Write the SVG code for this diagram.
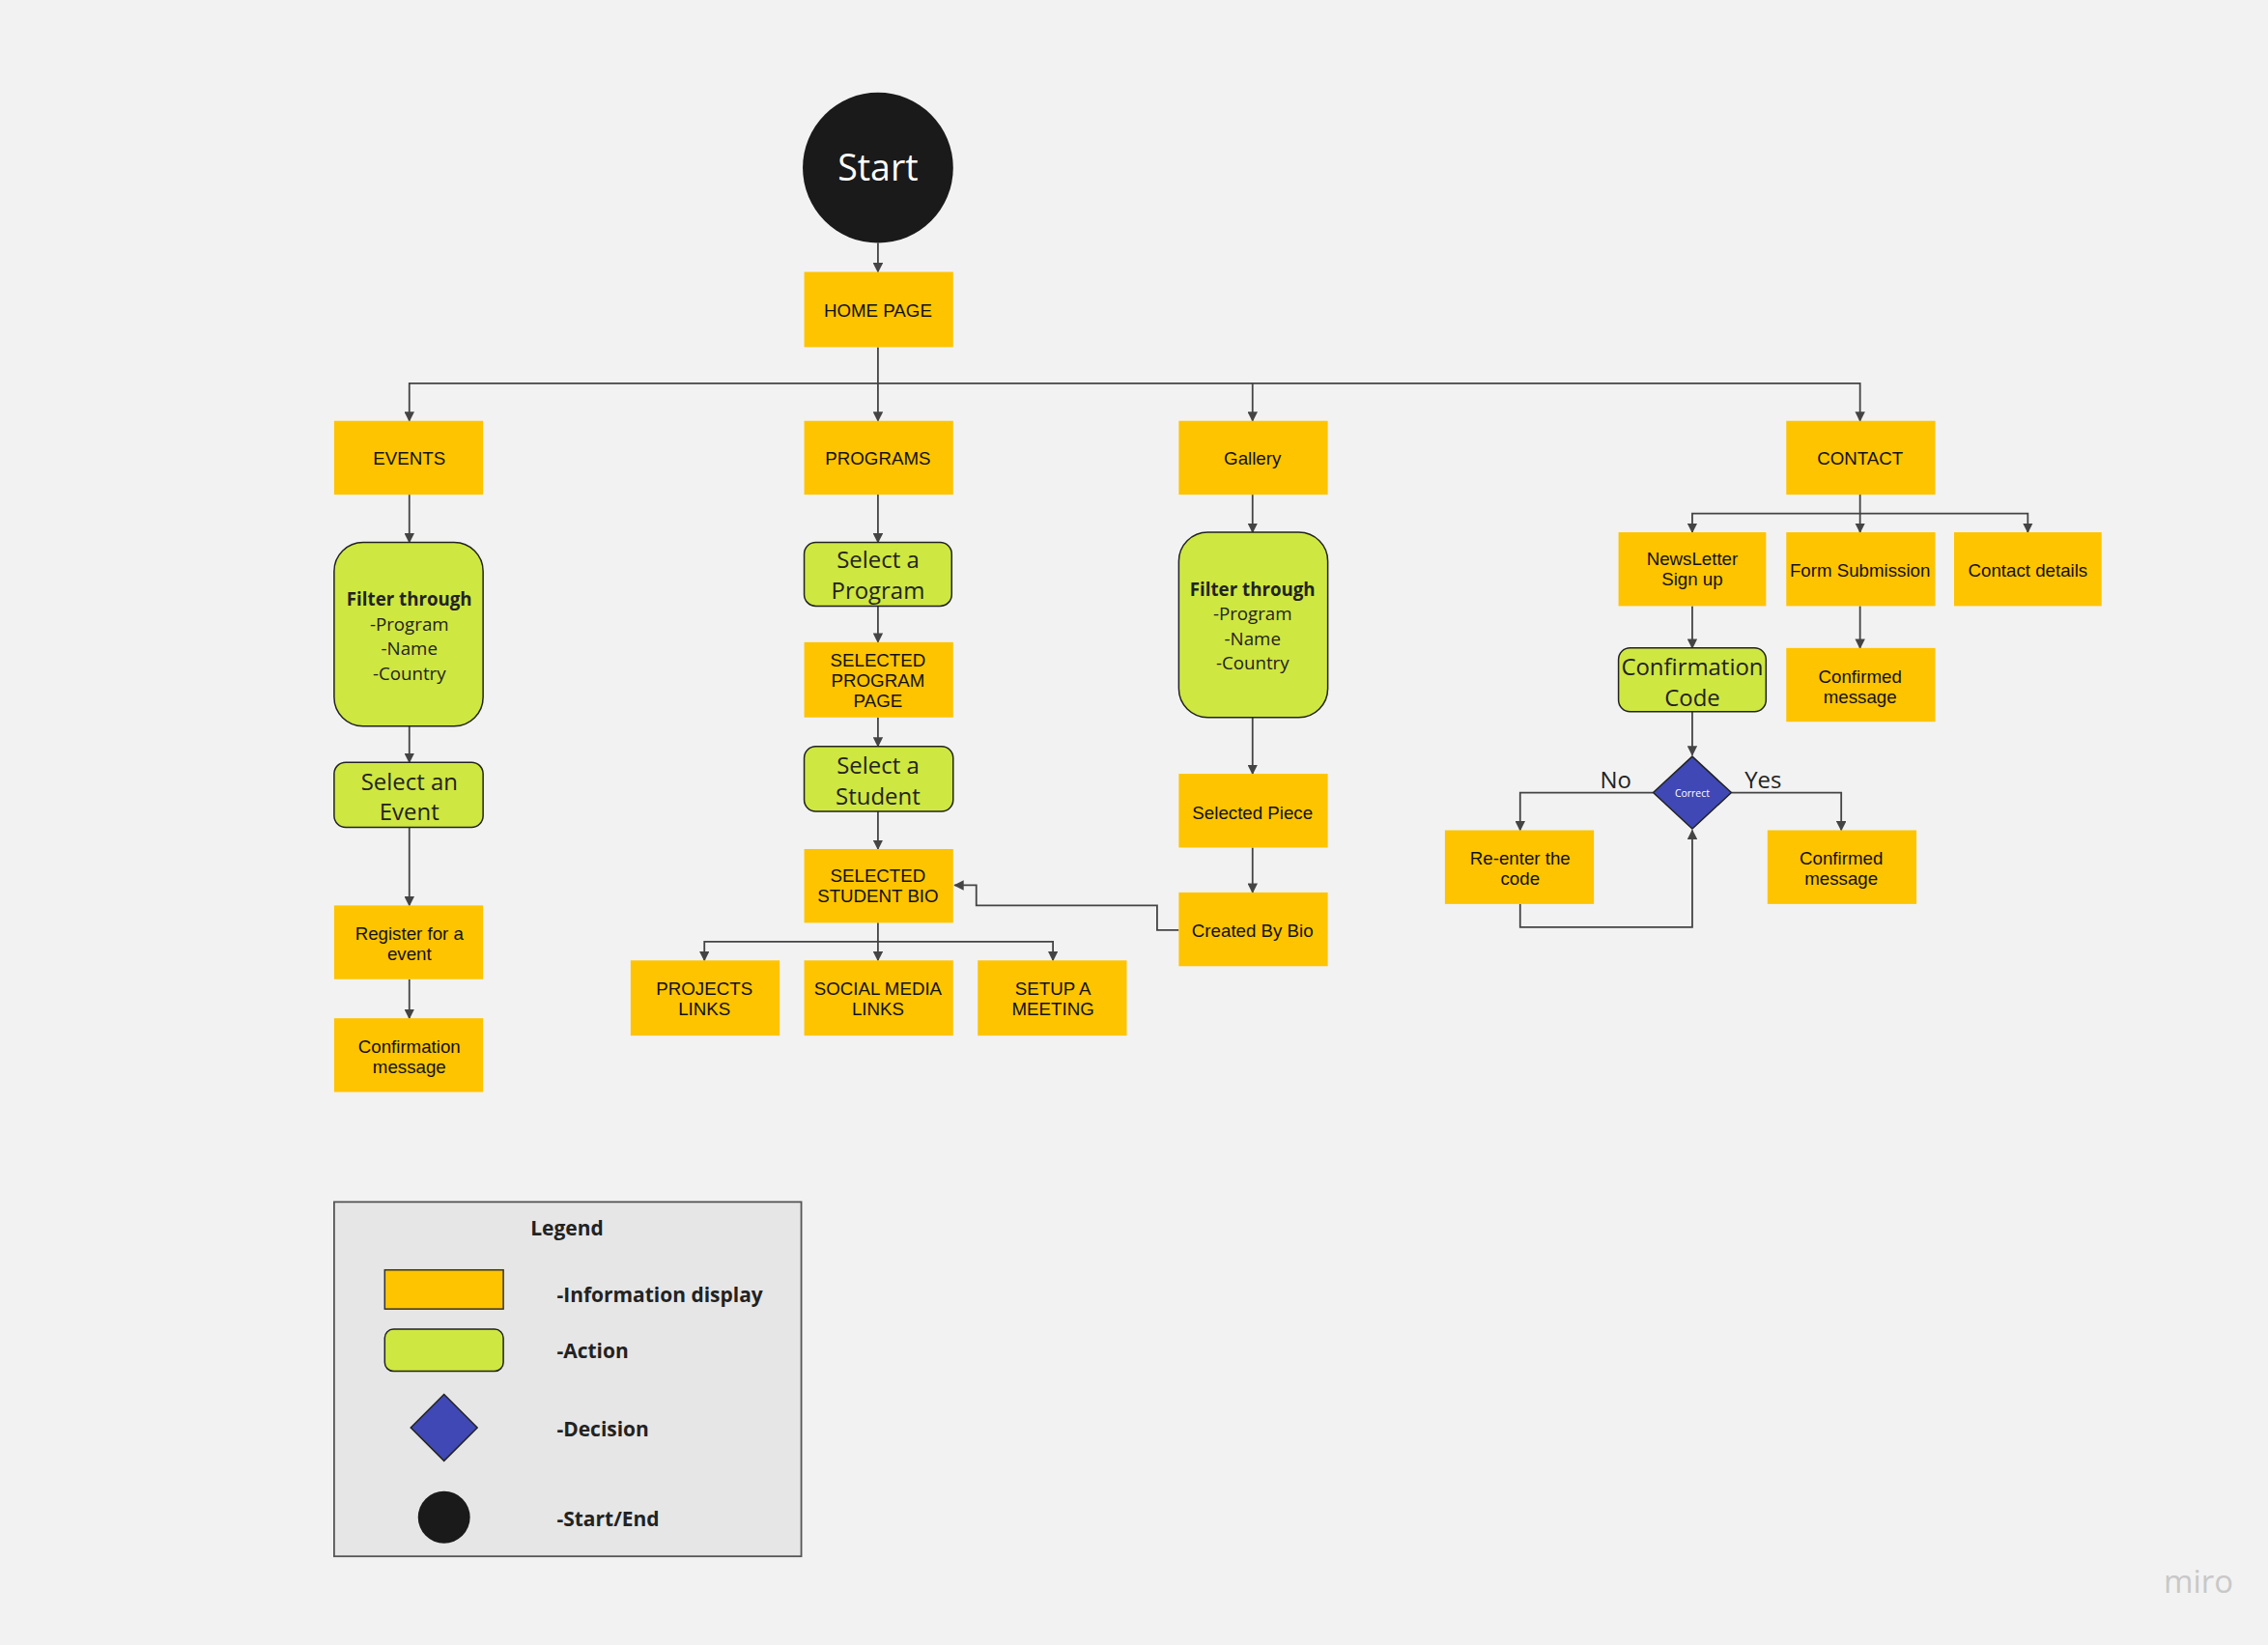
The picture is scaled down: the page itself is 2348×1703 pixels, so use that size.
<svg xmlns="http://www.w3.org/2000/svg" width="2348" height="1703" viewBox="0 0 2348 1703">
<style>
.o{fill:#fec400}
.g{fill:#cfe741;stroke:#222;stroke-width:1}
.t{font-family:"Liberation Sans",Arial,sans-serif;font-size:12.5px;fill:#111;text-anchor:middle}
.a{font-family:"Open Sans",sans-serif;font-size:16px;fill:#222;text-anchor:middle}
.f{font-family:"Open Sans",sans-serif;font-size:12.5px;fill:#222;text-anchor:middle}
.c path{fill:none;stroke:#444;stroke-width:1.2;marker-end:url(#ar)}
.l{font-family:"Open Sans",sans-serif;font-size:14px;font-weight:bold;fill:#222}
</style>
<defs><marker id="ar" viewBox="0 0 10 10" refX="9" refY="5" markerWidth="7" markerHeight="7" orient="auto-start-reverse" markerUnits="userSpaceOnUse"><path d="M0,0 L10,5 L0,10 z" fill="#444"/></marker></defs>
<rect width="2348" height="1703" fill="#f2f2f2"/>
<g transform="scale(1.4974)">
<g class="c">
<path d="M607,168 V188"/>
<path d="M607,240 V265 H283 V291"/>
<path d="M607,265 V291"/>
<path d="M607,265 H866 V291"/>
<path d="M866,265 H1286 V291"/>
<path d="M283,342 V375"/><path d="M283,502 V527"/><path d="M283,572 V626"/><path d="M283,677 V704"/>
<path d="M607,342 V375"/><path d="M607,419 V444"/><path d="M607,496 V516"/><path d="M607,561 V587"/>
<path d="M607,638 V651 H487 V664"/><path d="M607,651 V664"/><path d="M607,651 H728 V664"/>
<path d="M866,342 V368"/><path d="M866,496 V535"/><path d="M866,586 V617"/>
<path d="M815,643 H800 V626 H675 V612 H660"/>
<path d="M1286,342 V355 H1170 V368"/><path d="M1286,355 V368"/><path d="M1286,355 H1402 V368"/>
<path d="M1170,419 V448"/><path d="M1286,419 V448"/><path d="M1170,492 V522"/>
<path d="M1143,548 H1051 V574"/><path d="M1197,548 H1273 V574"/>
<path d="M1051,625 V641 H1170 V574"/>
</g>
<g id="start"><circle cx="607" cy="116" r="52" fill="#1a1a1a"/><text x="607" y="125" font-family="Open Sans,sans-serif" font-size="25" fill="#fff" text-anchor="middle">Start</text></g>
<g id="home"><rect class="o" x="556" y="188" width="103" height="52"/><text class="t" x="607" y="219">HOME PAGE</text></g>
<g id="events"><rect class="o" x="231" y="291" width="103" height="51"/><text class="t" x="283" y="321">EVENTS</text></g>
<g id="programs"><rect class="o" x="556" y="291" width="103" height="51"/><text class="t" x="607" y="321">PROGRAMS</text></g>
<g id="gallery"><rect class="o" x="815" y="291" width="103" height="51"/><text class="t" x="866" y="321">Gallery</text></g>
<g id="contact"><rect class="o" x="1235" y="291" width="103" height="51"/><text class="t" x="1286" y="321">CONTACT</text></g>
<g id="efilter"><rect class="g" x="231" y="375" width="103" height="127" rx="20"/><text class="f" x="283" y="419" font-weight="bold">Filter through</text><text class="f" x="283" y="436">-Program</text><text class="f" x="283" y="453">-Name</text><text class="f" x="283" y="470">-Country</text></g>
<g id="selevent"><rect class="g" x="231" y="527" width="103" height="45" rx="8"/><text class="a" x="283" y="546">Select an</text><text class="a" x="283" y="567">Event</text></g>
<g id="register"><rect class="o" x="231" y="626" width="103" height="51"/><text class="t" x="283" y="650">Register for a</text><text class="t" x="283" y="664">event</text></g>
<g id="econf"><rect class="o" x="231" y="704" width="103" height="51"/><text class="t" x="283" y="728">Confirmation</text><text class="t" x="283" y="742">message</text></g>
<g id="selprog"><rect class="g" x="556" y="375" width="102" height="44" rx="8"/><text class="a" x="607" y="393">Select a</text><text class="a" x="607" y="414">Program</text></g>
<g id="progpage"><rect class="o" x="556" y="444" width="103" height="52"/><text class="t" x="607" y="461">SELECTED</text><text class="t" x="607" y="475">PROGRAM</text><text class="t" x="607" y="489">PAGE</text></g>
<g id="selstud"><rect class="g" x="556" y="516" width="103" height="45" rx="8"/><text class="a" x="607" y="535">Select a</text><text class="a" x="607" y="556">Student</text></g>
<g id="studbio"><rect class="o" x="556" y="587" width="103" height="51"/><text class="t" x="607" y="610">SELECTED</text><text class="t" x="607" y="624">STUDENT BIO</text></g>
<g id="projects"><rect class="o" x="436" y="664" width="103" height="52"/><text class="t" x="487" y="688">PROJECTS</text><text class="t" x="487" y="702">LINKS</text></g>
<g id="social"><rect class="o" x="556" y="664" width="103" height="52"/><text class="t" x="607" y="688">SOCIAL MEDIA</text><text class="t" x="607" y="702">LINKS</text></g>
<g id="setup"><rect class="o" x="676" y="664" width="103" height="52"/><text class="t" x="728" y="688">SETUP A</text><text class="t" x="728" y="702">MEETING</text></g>
<g id="gfilter"><rect class="g" x="815" y="368" width="103" height="128" rx="20"/><text class="f" x="866" y="412" font-weight="bold">Filter through</text><text class="f" x="866" y="429">-Program</text><text class="f" x="866" y="446">-Name</text><text class="f" x="866" y="463">-Country</text></g>
<g id="piece"><rect class="o" x="815" y="535" width="103" height="51"/><text class="t" x="866" y="566">Selected Piece</text></g>
<g id="createdby"><rect class="o" x="815" y="617" width="103" height="51"/><text class="t" x="866" y="648">Created By Bio</text></g>
<g id="newsletter"><rect class="o" x="1119" y="368" width="102" height="51"/><text class="t" x="1170" y="391">NewsLetter</text><text class="t" x="1170" y="405">Sign up</text></g>
<g id="form"><rect class="o" x="1235" y="368" width="103" height="51"/><text class="t" x="1286" y="399">Form Submission</text></g>
<g id="details"><rect class="o" x="1351" y="368" width="102" height="51"/><text class="t" x="1402" y="399">Contact details</text></g>
<g id="confcode"><rect class="g" x="1119" y="448" width="102" height="44" rx="8"/><text class="a" x="1170" y="467" font-size="15">Confirmation</text><text class="a" x="1170" y="488" font-size="15">Code</text></g>
<g id="formconf"><rect class="o" x="1235" y="448" width="103" height="51"/><text class="t" x="1286" y="472">Confirmed</text><text class="t" x="1286" y="486">message</text></g>
<g id="correct"><path d="M1170,523 L1197,548 L1170,573 L1143,548 Z" fill="#3f48b5" stroke="#222" stroke-width="1"/><text x="1170" y="551" font-family="Open Sans,sans-serif" font-size="7" fill="#fff" text-anchor="middle">Correct</text></g>
<text x="1117" y="545" font-family="Open Sans,sans-serif" font-size="16" fill="#222" text-anchor="middle">No</text>
<text x="1219" y="545" font-family="Open Sans,sans-serif" font-size="16" fill="#222" text-anchor="middle">Yes</text>
<g id="reenter"><rect class="o" x="999" y="574" width="103" height="51"/><text class="t" x="1051" y="598">Re-enter the</text><text class="t" x="1051" y="612">code</text></g>
<g id="yesconf"><rect class="o" x="1222" y="574" width="103" height="51"/><text class="t" x="1273" y="598">Confirmed</text><text class="t" x="1273" y="612">message</text></g>
<g id="legend">
<rect x="231" y="831" width="323" height="245" fill="#e6e6e6" stroke="#555" stroke-width="1.2"/>
<text class="l" x="392" y="854" text-anchor="middle">Legend</text>
<rect x="266" y="878" width="82" height="27" fill="#fec400" stroke="#333" stroke-width="1"/>
<rect x="266" y="919" width="82" height="29" rx="6" class="g"/>
<path d="M307,964 L330,987 L307,1010 L284,987 Z" fill="#3f48b5" stroke="#222" stroke-width="1"/>
<circle cx="307" cy="1049" r="18" fill="#1a1a1a"/>
<text class="l" x="385" y="900">-Information display</text>
<text class="l" x="385" y="939">-Action</text>
<text class="l" x="385" y="993">-Decision</text>
<text class="l" x="385" y="1055">-Start/End</text>
</g>
<text x="1520" y="1101" font-family="Open Sans,sans-serif" font-size="22" fill="#c8c8c8" text-anchor="middle">miro</text>
</g>
</svg>
